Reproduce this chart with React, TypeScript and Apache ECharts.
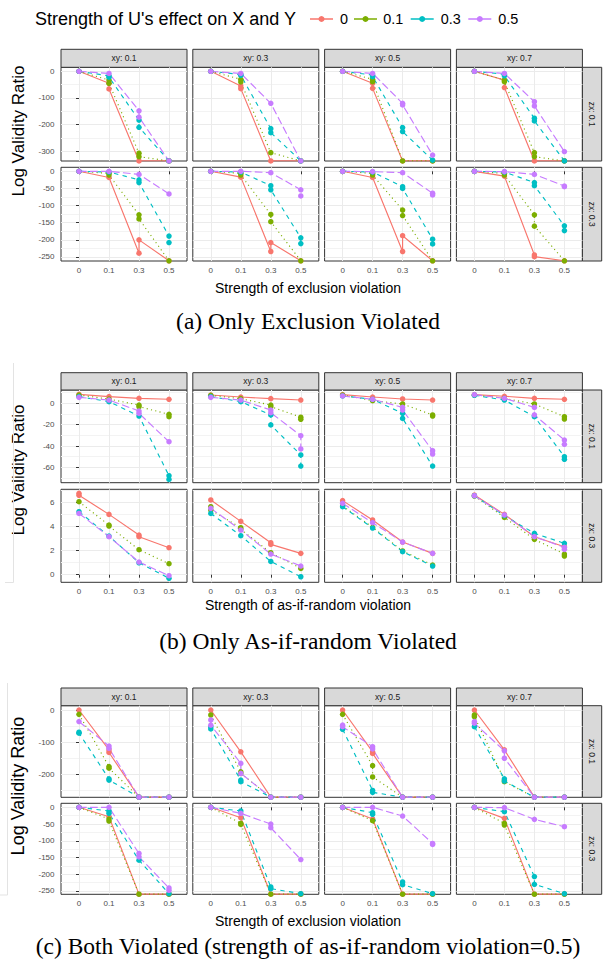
import React, { useEffect, useRef } from 'react';
import * as echarts from 'echarts';

// ---------- categories / labels ----------
const X_LABELS = ['0', '0.1', '0.3', '0.5'];
const X_POS = [0, 1, 2, 3];
const U_LEVELS = ['0', '0.1', '0.3', '0.5'];
const XY_STRIPS = ['xy: 0.1', 'xy: 0.3', 'xy: 0.5', 'xy: 0.7'];
const ZX_STRIPS = ['zx: 0.1', 'zx: 0.3'];
const LEGEND_TITLE = "Strength of U's effect on X and Y";
const Y_TITLE = 'Log Validity Ratio';
const X_TITLES = [
  'Strength of exclusion violation',
  'Strength of as-if-random violation',
  'Strength of exclusion violation',
];
const CAPTIONS = [
  '(a) Only Exclusion Violated',
  '(b) Only As-if-random Violated',
  '(c) Both Violated (strength of as-if-random violation=0.5)',
];

// ---------- tick values ----------
const A_TICKS = [[0, -100, -200, -300], [0, -50, -100, -150, -200, -250]];
const A_MINOR = [[-50, -150, -250], [-25, -75, -125, -175, -225]];
const B_TICKS = [[0, -20, -40, -60], [0, 2, 4, 6]];
const B_MINOR = [[10, -10, -30, -50, -70], [1, 3, 5, 7]];
const C_TICKS = [[0, -100, -200], [0, -50, -100, -150, -200, -250]];
const C_MINOR = [[-50, -150, -250], [-25, -75, -125, -175, -225]];

// ---------- data: [x index, log validity ratio], 8 panels each (zx 0.1 row: xy .1,.3,.5,.7 ; zx 0.3 row) ----------
// (a) Only exclusion violated
const A_U0 = [
  [[0, 0], [1, -45], [1, -66], [2, -336], [3, -336]],
  [[0, 0], [1, -55], [1, -65], [2, -336], [3, -336]],
  [[0, 0], [1, -45], [1, -64], [2, -336], [3, -336]],
  [[0, 0], [1, -33], [1, -61], [2, -336], [3, -336]],
  [[0, 0], [1, -18], [2, -239], [2, -200], [3, -261]],
  [[0, 0], [1, -17], [2, -234], [2, -208], [3, -261]],
  [[0, 0], [1, -18], [2, -234], [2, -188], [3, -261]],
  [[0, 0], [1, -14], [2, -244], [2, -249], [3, -261]],
];
const A_U01 = [
  [[0, 0], [1, -33], [1, -45], [2, -307], [2, -320], [3, -336]],
  [[0, 0], [1, -30], [1, -40], [2, -305], [3, -336]],
  [[0, 0], [1, -30], [1, -39], [2, -336], [3, -336]],
  [[0, 0], [1, -33], [1, -39], [2, -305], [2, -320], [3, -336]],
  [[0, 0], [1, -6], [1, -11], [2, -127], [2, -139], [3, -261]],
  [[0, 0], [1, -6], [1, -11], [2, -126], [2, -147], [3, -261]],
  [[0, 0], [1, -6], [1, -11], [2, -113], [2, -129], [3, -261]],
  [[0, 0], [1, -6], [1, -11], [2, -127], [2, -160], [3, -261]],
];
const A_U03 = [
  [[0, 0], [1, -17], [1, -22], [2, -183], [2, -210], [3, -336]],
  [[0, 0], [1, -12], [1, -15], [2, -215], [2, -230], [3, -336]],
  [[0, 0], [1, -14], [1, -20], [2, -211], [2, -226], [3, -333]],
  [[0, 0], [1, -11], [1, -17], [2, -176], [2, -186], [3, -336]],
  [[0, 0], [1, -2], [2, -25], [2, -33], [3, -189], [3, -208]],
  [[0, 0], [1, -2], [2, -42], [2, -54], [3, -194], [3, -211]],
  [[0, 0], [1, -2], [2, -45], [2, -50], [3, -198], [3, -212]],
  [[0, 0], [1, -2], [2, -33], [2, -42], [3, -159], [3, -173]],
];
const A_U05 = [
  [[0, 0], [1, -8], [2, -148], [2, -172], [3, -336]],
  [[0, 0], [1, -8], [2, -120], [3, -336]],
  [[0, 0], [1, -8], [2, -120], [2, -126], [3, -314]],
  [[0, 0], [1, -8], [2, -114], [2, -130], [3, -301]],
  [[0, 0], [1, 0], [2, -9], [3, -66]],
  [[0, 0], [1, 0], [2, -4], [3, -54], [3, -72]],
  [[0, 0], [1, -1], [2, -4], [3, -64], [3, -69]],
  [[0, 0], [1, -1], [2, -9], [3, -43], [3, -45]],
];

// (b) Only as-if-random violated
const B_U0 = [
  [[0, 8.4], [1, 6.3], [2, 4.7], [3, 3.8]],
  [[0, 7.8], [1, 5.9], [2, 4.4], [3, 3.1]],
  [[0, 8.1], [1, 5.9], [2, 4.1], [3, 3.1]],
  [[0, 8.1], [1, 6.6], [2, 4.7], [3, 3.8]],
  [[0, 6.75], [0, 6.58], [1, 5.0], [2, 3.29], [2, 3.15], [3, 2.24]],
  [[0, 6.2], [1, 4.42], [2, 2.65], [2, 2.51], [3, 1.77]],
  [[0, 6.14], [1, 4.54], [2, 2.71], [3, 1.77]],
  [[0, 6.6], [1, 5.0], [2, 3.15], [3, 2.32]],
];
const B_U01 = [
  [[0, 7.8], [1, 4.0], [2, -1.6], [2, -3.1], [3, -10.3], [3, -12.5]],
  [[0, 7.5], [1, 4.4], [2, -1.6], [2, -3.1], [3, -13], [3, -15]],
  [[0, 7.8], [1, 2.5], [2, -0.6], [3, -10.9], [3, -11.9]],
  [[0, 7.8], [1, 4.7], [2, -0.6], [3, -12.5], [3, -14.7]],
  [[0, 6.05], [1, 4.11], [1, 4.03], [2, 2.07], [3, 0.91]],
  [[0, 5.64], [0, 5.36], [1, 3.9], [1, 3.76], [2, 1.82], [3, 0.52]],
  [[0, 5.7], [1, 3.93], [2, 1.97], [3, 0.8]],
  [[0, 6.52], [1, 4.75], [2, 2.93], [3, 1.71], [3, 1.55]],
];
const B_U03 = [
  [[0, 6.3], [1, 1.6], [2, -11.9], [3, -67.8], [3, -71.3]],
  [[0, 6.3], [1, 1.6], [2, -10.9], [2, -20.3], [3, -48.4], [3, -58.8]],
  [[0, 6.9], [1, 3.8], [2, -9.4], [2, -14.1], [3, -58.8]],
  [[0, 7.5], [1, 3.1], [2, -12.5], [3, -50], [3, -52.5]],
  [[0, 5.22], [1, 3.2], [2, 0.99], [3, -0.3]],
  [[0, 5.08], [1, 3.23], [2, 1.1], [3, -0.17]],
  [[0, 5.64], [1, 3.87], [2, 1.91], [3, 0.72]],
  [[0, 6.55], [1, 4.9], [2, 3.43], [3, 2.6]],
];
const B_U05 = [
  [[0, 5.6], [1, 3.1], [2, -7.2], [2, -9.4], [3, -36]],
  [[0, 5.6], [1, 3.1], [2, -6.3], [2, -8.8], [3, -30.3], [3, -42.8]],
  [[0, 6.9], [1, 3.8], [2, -3.8], [2, -6.3], [3, -44.4], [3, -47.5]],
  [[0, 8.1], [1, 4.7], [2, -3.8], [2, -10.9], [3, -34.4], [3, -38.4]],
  [[0, 5.08], [1, 3.15], [2, 1.05], [3, -0.08]],
  [[0, 5.5], [1, 3.7], [2, 1.71], [3, 0.72]],
  [[0, 5.92], [1, 4.31], [2, 2.71], [3, 1.77]],
  [[0, 6.55], [1, 4.95], [2, 3.15], [3, 2.27], [3, 2.1]],
];

// (c) Both violated
const C_U0 = [
  [[0, 0], [1, -124], [1, -132], [2, -271], [3, -271]],
  [[0, 0], [1, -130], [2, -271], [3, -271]],
  [[0, 0], [1, -130], [1, -135], [2, -271], [3, -271]],
  [[0, 0], [1, -124], [2, -271], [3, -271]],
  [[0, 0], [1, -28], [2, -259.5], [3, -259.5]],
  [[0, 0], [1, -31], [2, -259.5], [3, -259.5]],
  [[0, 0], [1, -35], [2, -259.5], [3, -259.5]],
  [[0, 0], [1, -33], [2, -259.5], [3, -259.5]],
];
const C_U01 = [
  [[0, -13.5], [1, -176], [1, -181], [2, -271], [3, -271]],
  [[0, -15.5], [1, -192], [1, -197], [2, -271], [3, -271]],
  [[0, -13.5], [1, -173], [1, -208], [2, -271], [3, -271]],
  [[0, -15.5], [0, -20.7], [1, -218], [1, -223], [2, -271], [3, -271]],
  [[0, 0], [1, -35], [1, -41], [2, -259.5], [3, -259.5]],
  [[0, 0], [1, -48], [1, -51], [2, -259.5], [3, -259.5]],
  [[0, 0], [1, -40], [2, -259.5], [3, -259.5]],
  [[0, 0], [1, -48], [1, -53], [2, -259.5], [3, -259.5]],
];
const C_U03 = [
  [[0, -69], [0, -72], [1, -214], [1, -218], [2, -271], [3, -271]],
  [[0, -52], [0, -59], [1, -218], [1, -223], [2, -271], [3, -271]],
  [[0, -60], [1, -250], [1, -256], [2, -271], [3, -271]],
  [[0, -52], [1, -214], [1, -221], [2, -271], [3, -271]],
  [[0, 0], [1, -11], [1, -18], [2, -158], [3, -258]],
  [[0, 0], [1, -11], [2, -238], [2, -243], [3, -258]],
  [[0, 0], [1, -16], [1, -21], [2, -223], [2, -231], [3, -258]],
  [[0, 0], [1, -13], [2, -207], [2, -230], [3, -258]],
];
const C_U05 = [
  [[0, -36], [1, -112], [1, -119], [2, -271], [3, -271]],
  [[0, -31], [0, -47], [1, -166], [1, -197], [2, -271], [3, -271]],
  [[0, -47], [0, -52], [1, -114], [1, -121], [2, -271], [3, -271]],
  [[0, -36], [0, -41], [1, -127], [1, -150], [2, -271], [3, -271]],
  [[0, 0], [1, 0], [2, -138], [2, -148], [3, -241], [3, -248]],
  [[0, 0], [1, -18], [2, -50], [2, -61], [3, -156]],
  [[0, 0], [1, 0], [2, -26], [3, -108], [3, -111]],
  [[0, 0], [1, -1], [2, -36], [3, -58]],
];

// ---------- assembling (references only) ----------
const FIGURES = [
  { series: [A_U0, A_U01, A_U03, A_U05], ticks: A_TICKS, minor: A_MINOR },
  { series: [B_U0, B_U01, B_U03, B_U05], ticks: B_TICKS, minor: B_MINOR },
  { series: [C_U0, C_U01, C_U03, C_U05], ticks: C_TICKS, minor: C_MINOR },
];

// ---------- layout / style ----------
const SANS = "'Liberation Sans', Arial, Helvetica, sans-serif";
const SERIF = "'Liberation Serif', 'Times New Roman', serif";
const U_COLORS = ['#F8766D', '#7CAE00', '#00BFC4', '#C77CFF'];
const U_DASH: any[] = ['solid', [1.1, 3.3], [4.4, 4.4], [7.7, 3.3]];
const COL_LEFT = [61, 192.8, 324.6, 456.4];
const PANEL_W = 126;
const RSTRIP_W = 19.3;
const TICK_FONT = 8;
const STRIP_FONT = 8.5;
const LAYOUT = [
  { stripTop: 49.3, rows: [[67.3, 161], [167.3, 261]], yRange: [[-336.3, 15], [-261.7, 11.7]], xTitleY: 288, captionY: 321, yTitleY: 131, yTitleSize: 17 },
  { stripTop: 372.7, rows: [[390, 482.7], [489.3, 582.3]], yRange: [[-74.4, 12.5], [-0.63, 7.08]], xTitleY: 605, captionY: 641, yTitleY: 470, yTitleSize: 17 },
  { stripTop: 688, rows: [[705.7, 797.3], [803.3, 894.3]], yRange: [[-271.4, 13.4], [-259.9, 12]], xTitleY: 921, captionY: 946, yTitleY: 786, yTitleSize: 18 },
];
const LEGEND_KEY_X = [310, 354, 410.7, 468.3];
const LEGEND_LABEL_X = [340, 383.3, 440.7, 498.3];

function buildOption() {
  const grid: any[] = [];
  const xAxis: any[] = [];
  const yAxis: any[] = [];
  const series: any[] = [];
  const elements: any[] = [];

  FIGURES.forEach((fig, f) => {
    const L = LAYOUT[f];
    for (let r = 0; r < 2; r++) {
      for (let c = 0; c < 4; c++) {
        const g = grid.length;
        const p = r * 4 + c;
        const top = L.rows[r][0];
        const bottom = L.rows[r][1];
        const isBottom = r === 1;
        const isLeft = c === 0;
        grid.push({
          left: COL_LEFT[c], top, width: PANEL_W, height: bottom - top,
          show: true, borderColor: '#333333', borderWidth: 1, backgroundColor: '#FFFFFF',
          containLabel: false, outerBoundsMode: 'none',
        });
        xAxis.push({
          type: 'value', gridIndex: g, min: -0.6, max: 3.6,
          axisLine: { show: false },
          axisTick: { show: isBottom, customValues: X_POS, length: 3, lineStyle: { color: '#333333', width: 1 } },
          axisLabel: {
            show: isBottom, customValues: X_POS, formatter: (v: number) => X_LABELS[Math.round(v)],
            fontSize: TICK_FONT, color: '#4D4D4D', margin: 5.5, fontFamily: SANS,
          },
          splitLine: { show: true, lineStyle: { color: '#EBEBEB', width: 1 } },
        });
        const [ymin, ymax] = L.yRange[r];
        yAxis.push({
          type: 'value', gridIndex: g, min: ymin, max: ymax, position: 'left',
          axisLine: { show: false },
          axisTick: { show: isLeft, customValues: fig.ticks[r], length: 3, lineStyle: { color: '#333333', width: 1 } },
          axisLabel: { show: isLeft, customValues: fig.ticks[r], fontSize: TICK_FONT, color: '#4D4D4D', margin: 6.5, fontFamily: SANS },
          splitLine: { show: true, lineStyle: { color: '#EBEBEB', width: 1 } },
        });
        yAxis.push({
          type: 'value', gridIndex: g, min: ymin, max: ymax,
          axisLine: { show: false },
          axisTick: { show: false, customValues: fig.minor[r] },
          axisLabel: { show: false, customValues: fig.minor[r] },
          splitLine: { show: true, lineStyle: { color: '#F3F3F3', width: 1 } },
        });
        U_LEVELS.forEach((u, s) => {
          series.push({
            type: 'line', name: u, xAxisIndex: g, yAxisIndex: 2 * g,
            data: fig.series[s][p], showSymbol: false, symbol: 'none',
            lineStyle: { color: U_COLORS[s], width: 1.15, type: U_DASH[s], cap: 'butt' },
            z: 2, silent: true, clip: true,
          });
        });
        U_LEVELS.forEach((u, s) => {
          series.push({
            type: 'scatter', name: u, xAxisIndex: g, yAxisIndex: 2 * g,
            data: fig.series[s][p], symbol: 'circle', symbolSize: 5.5,
            itemStyle: { color: U_COLORS[s], opacity: 1 },
            z: 3, silent: true, clip: true,
          });
        });
      }
    }
    // top strips
    for (let c = 0; c < 4; c++) {
      const h = L.rows[0][0] - L.stripTop;
      elements.push({
        type: 'rect', shape: { x: COL_LEFT[c], y: L.stripTop, width: PANEL_W, height: h },
        style: { fill: '#D9D9D9', stroke: '#333333', lineWidth: 1 },
      });
      elements.push({
        type: 'text', x: COL_LEFT[c] + PANEL_W / 2, y: L.stripTop + h / 2,
        style: { text: XY_STRIPS[c], fill: '#1A1A1A', fontSize: STRIP_FONT, fontFamily: SANS, align: 'center', verticalAlign: 'middle' },
      });
    }
    // right strips
    for (let r = 0; r < 2; r++) {
      const x0 = COL_LEFT[3] + PANEL_W;
      const [t, b] = L.rows[r];
      elements.push({
        type: 'rect', shape: { x: x0, y: t, width: RSTRIP_W, height: b - t },
        style: { fill: '#D9D9D9', stroke: '#333333', lineWidth: 1 },
      });
      elements.push({
        type: 'text', x: x0 + RSTRIP_W / 2, y: (t + b) / 2, rotation: -Math.PI / 2,
        style: { text: ZX_STRIPS[r], fill: '#1A1A1A', fontSize: STRIP_FONT, fontFamily: SANS, align: 'center', verticalAlign: 'middle' },
      });
    }
    // axis titles and caption
    elements.push({
      type: 'text', x: 18, y: L.yTitleY, rotation: Math.PI / 2,
      style: { text: Y_TITLE, fill: '#000000', fontSize: L.yTitleSize, fontFamily: SANS, align: 'center', verticalAlign: 'middle' },
    });
    elements.push({
      type: 'text', x: 308, y: L.xTitleY,
      style: { text: X_TITLES[f], fill: '#000000', fontSize: 14, fontFamily: SANS, align: 'center', verticalAlign: 'middle' },
    });
    elements.push({
      type: 'text', x: 308, y: L.captionY,
      style: { text: CAPTIONS[f], fill: '#000000', fontSize: 23.5, fontFamily: SERIF, align: 'center', verticalAlign: 'middle' },
    });
  });

  // legend
  elements.push({
    type: 'text', x: 35, y: 19,
    style: { text: LEGEND_TITLE, fill: '#000000', fontSize: 18, fontFamily: SANS, align: 'left', verticalAlign: 'middle' },
  });
  U_LEVELS.forEach((u, s) => {
    const x0 = LEGEND_KEY_X[s];
    elements.push({ type: 'line', shape: { x1: x0, y1: 19, x2: x0 + 23, y2: 19 }, style: { stroke: U_COLORS[s], lineWidth: 1.5 } });
    elements.push({ type: 'circle', shape: { cx: x0 + 11.5, cy: 19, r: 3 }, style: { fill: U_COLORS[s] } });
    elements.push({
      type: 'text', x: LEGEND_LABEL_X[s], y: 19,
      style: { text: u, fill: '#000000', fontSize: 14.4, fontFamily: SANS, align: 'left', verticalAlign: 'middle' },
    });
  });

  // faint page-edge lines from the source image
  const faint = { stroke: '#E3E3E3', lineWidth: 1 };
  elements.push({ type: 'line', shape: { x1: 13.5, y1: 363, x2: 13.5, y2: 582.5 }, style: faint });
  elements.push({ type: 'line', shape: { x1: 5, y1: 582.5, x2: 13.5, y2: 582.5 }, style: faint });
  elements.push({ type: 'line', shape: { x1: 7.5, y1: 683, x2: 7.5, y2: 895 }, style: faint });
  elements.push({ type: 'line', shape: { x1: 0, y1: 895, x2: 7.5, y2: 895 }, style: faint });

  return {
    animation: false,
    backgroundColor: '#FFFFFF',
    textStyle: { fontFamily: SANS },
    grid, xAxis, yAxis, series,
    graphic: { elements },
  };
}

export default function App() {
  const ref = useRef<HTMLDivElement>(null);
  useEffect(() => {
    if (!ref.current) return;
    const chart = echarts.init(ref.current, null, { renderer: 'svg' });
    chart.setOption(buildOption() as any);
    return () => chart.dispose();
  }, []);
  return (
    <div
      ref={ref}
      style={{ position: 'absolute', left: 0, top: 0, width: 603, height: 963, background: '#FFFFFF' }}
    />
  );
}
